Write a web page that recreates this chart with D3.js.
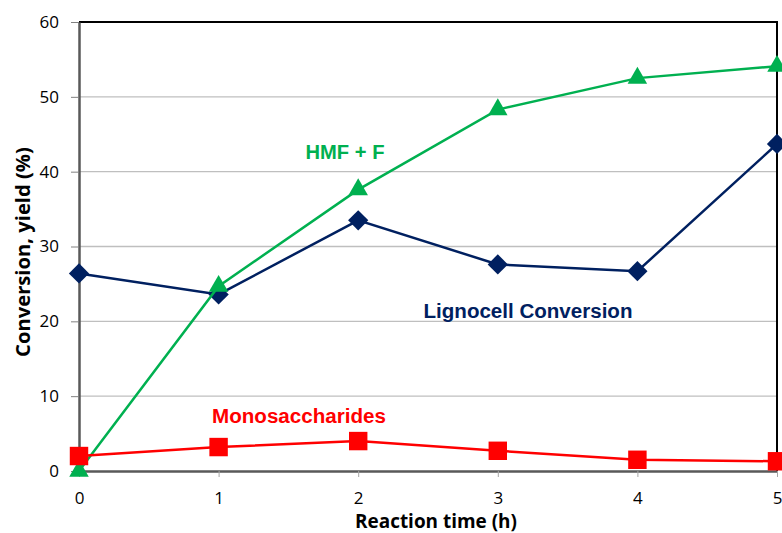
<!DOCTYPE html>
<html>
<head>
<meta charset="utf-8">
<script src="https://cdn.jsdelivr.net/npm/d3@7"></script>
<style>
  body { margin: 0; background: #fff; }
  .tick text { font-family: "Open Sans", "DejaVu Sans", sans-serif; font-size: 17px; fill: #000; }
  .label { font-family: "Liberation Sans", Arial, sans-serif; font-weight: bold; }
  .title { font-family: "Open Sans", "DejaVu Sans", sans-serif; font-weight: bold; }
</style>
</head>
<body>
<div id="GraphHolder"></div>
<script>
// data
var times = [0, 1, 2, 3, 4, 5];
var hmf = [0, 24.7, 37.6, 48.3, 52.5, 54.1];
var lignocell = [26.4, 23.6, 33.5, 27.6, 26.7, 43.7];
var mono = [2.0, 3.2, 4.0, 2.7, 1.5, 1.3];
var yTicks = [0, 10, 20, 30, 40, 50, 60];

var margin = {top: 22, right: 5, bottom: 62, left: 79},
    width = 782 - margin.left - margin.right,
    height = 533 - margin.top - margin.bottom;

var svg = d3.select("#GraphHolder").append("svg")
    .attr("width", 782)
    .attr("height", 533)
    .append("g")
    .attr("transform", "translate(" + margin.left + "," + margin.top + ")");

var x = d3.scaleLinear().domain([0, 5]).range([0, 698]);
var y = d3.scaleLinear().domain([0, 60]).range([449, 0]);

// grid
svg.append("g")
    .selectAll("line")
    .data(yTicks.slice(1, -1))
    .enter().append("line")
    .attr("x1", 0).attr("x2", x(5))
    .attr("y1", function(d) { return y(d); })
    .attr("y2", function(d) { return y(d); })
    .style("stroke", "#bfbfbf")
    .style("stroke-width", 1.3);

// top and right border
svg.append("path")
    .attr("d", "M0," + y(60) + "H" + x(5) + "V" + y(0))
    .style("fill", "none")
    .style("stroke", "#000")
    .style("stroke-width", 2);

// axes
var yAxis = svg.append("g")
    .call(d3.axisLeft(y).tickValues(yTicks).tickSize(8).tickSizeOuter(0).tickPadding(12));
yAxis.select(".domain").style("stroke", "#595959").style("stroke-width", 2.5);
yAxis.selectAll(".tick line").style("stroke", "#808080");

var xAxis = svg.append("g")
    .attr("transform", "translate(0," + y(0) + ")")
    .call(d3.axisBottom(x).tickValues(times).tickFormat(d3.format("d")).tickSize(6).tickSizeOuter(0));
xAxis.select(".domain").style("stroke", "#595959").style("stroke-width", 2.5);
xAxis.selectAll(".tick line").style("stroke", "#a6a6a6");
xAxis.selectAll(".tick text").attr("y", 33).attr("dy", 0);

var line = d3.line()
    .x(function(d, i) { return x(times[i]); })
    .y(function(d) { return y(d); });

function drawSeries(values, color, symbolType, size, rot) {
    svg.append("path")
        .datum(values)
        .attr("d", line)
        .style("fill", "none")
        .style("stroke", color)
        .style("stroke-width", 2.5);
    svg.selectAll(null)
        .data(values)
        .enter().append("path")
        .attr("d", d3.symbol().type(symbolType).size(size))
        .attr("transform", function(d, i) {
            return "translate(" + x(times[i]) + "," + y(d) + ") rotate(" + rot + ")";
        })
        .style("fill", color);
}

drawSeries(lignocell, "#002060", d3.symbolSquare, 205, 45);
drawSeries(hmf, "#00b050", d3.symbolTriangle, 165, 0);
drawSeries(mono, "#ff0000", d3.symbolSquare, 340, 0);

// shrink/grow a text so it spans the wanted width
function fit(t, w) {
    var fs = parseFloat(t.style("font-size"));
    var len = t.node().getComputedTextLength();
    t.style("font-size", (fs * w / len) + "px");
    return t;
}

// series labels (page coords converted to plot coords)
fit(svg.append("text").attr("class", "label")
    .attr("x", 345 - margin.left).attr("y", 159 - margin.top)
    .attr("text-anchor", "middle")
    .style("font-size", "19px").style("fill", "#00b050")
    .text("HMF + F"), 79);
fit(svg.append("text").attr("class", "label")
    .attr("x", 528 - margin.left).attr("y", 318 - margin.top)
    .attr("text-anchor", "middle")
    .style("font-size", "20px").style("fill", "#002060")
    .text("Lignocell Conversion"), 209);
fit(svg.append("text").attr("class", "label")
    .attr("x", 299 - margin.left).attr("y", 423 - margin.top)
    .attr("text-anchor", "middle")
    .style("font-size", "20px").style("fill", "#ff0000")
    .text("Monosaccharides"), 174);

// axis titles
fit(svg.append("text").attr("class", "title")
    .attr("x", 436 - margin.left).attr("y", 528 - margin.top)
    .attr("text-anchor", "middle")
    .style("font-size", "18px")
    .text("Reaction time (h)"), 162);
fit(svg.append("text").attr("class", "title")
    .attr("transform", "rotate(-90)")
    .attr("x", -(252 - margin.top)).attr("y", 30 - margin.left)
    .attr("text-anchor", "middle")
    .style("font-size", "18px")
    .text("Conversion, yield (%)"), 210);
</script>
</body>
</html>
